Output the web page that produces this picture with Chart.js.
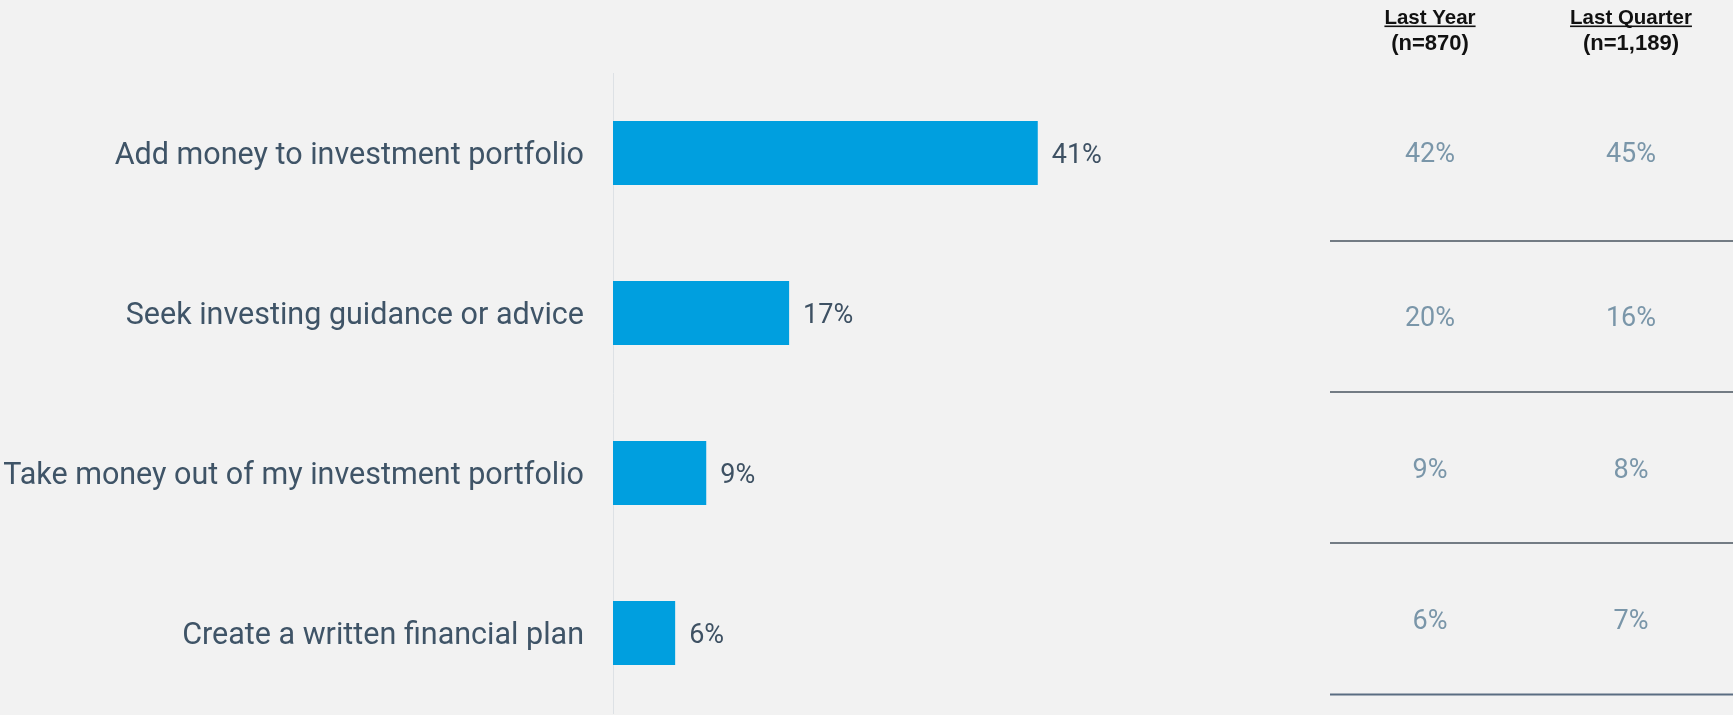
<!DOCTYPE html>
<html>
<head>
<meta charset="utf-8">
<script src="https://cdn.jsdelivr.net/npm/chart.js@4.4.1/dist/chart.umd.min.js"></script>
<style>
  html, body { margin: 0; padding: 0; background: #f2f2f2; }
  canvas { display: block; }
</style>
</head>
<body>
<canvas id="chart" width="1733" height="715"></canvas>
<script>
// Survey answers and the share choosing each one
const categories = [
  'Add money to investment portfolio',
  'Seek investing guidance or advice',
  'Take money out of my investment portfolio',
  'Create a written financial plan'
];
const currentValues = [41, 17, 9, 6];

// Comparison columns shown to the right of the bars
const lastYearValues = [42, 20, 9, 6];
const lastQuarterValues = [45, 16, 8, 7];
const comparisonTitles = ['Last Year', 'Last Quarter'];
const comparisonSamples = ['(n=870)', '(n=1,189)'];

const pct = v => v + '%';

// Comparison table layout (baselines of the figures, rule positions)
const tableColumnsX = [1430, 1631];
const tableRowsBaseline = [162, 325.5, 478, 629];
const tableRulesY = [241, 392, 543, 694.5];
const tableRuleLeft = 1330;

const background = {
  id: 'background',
  beforeDraw(chart) {
    const ctx = chart.ctx;
    ctx.save();
    ctx.fillStyle = '#f2f2f2';
    ctx.fillRect(0, 0, chart.width, chart.height);
    ctx.restore();
  }
};

const valueLabels = {
  id: 'valueLabels',
  afterDatasetsDraw(chart) {
    const ctx = chart.ctx;
    const meta = chart.getDatasetMeta(0);
    const data = chart.data.datasets[0].data;
    ctx.save();
    ctx.font = '27px Roboto';
    ctx.fillStyle = '#3e5163';
    ctx.textAlign = 'left';
    ctx.textBaseline = 'alphabetic';
    meta.data.forEach((bar, i) => {
      ctx.fillText(pct(data[i]), bar.x + 14, bar.y + 9.5);
    });
    ctx.restore();
  }
};

const comparisonTable = {
  id: 'comparisonTable',
  afterDraw(chart) {
    const ctx = chart.ctx;
    ctx.save();
    // column headers
    ctx.fillStyle = '#111111';
    ctx.textAlign = 'center';
    ctx.textBaseline = 'alphabetic';
    comparisonTitles.forEach((t, c) => {
      const x = tableColumnsX[c];
      ctx.font = 'bold 20.5px "Liberation Sans", Arial, sans-serif';
      ctx.fillText(t, x, 24);
      const w = ctx.measureText(t).width;
      ctx.fillRect(x - w / 2, 25.5, w, 1.6);
      ctx.font = 'bold 22px "Liberation Sans", Arial, sans-serif';
      ctx.fillText(comparisonSamples[c], x, 49.5);
    });
    // figures
    ctx.font = '27px Roboto';
    ctx.fillStyle = '#7a96a9';
    [lastYearValues, lastQuarterValues].forEach((col, c) => {
      col.forEach((v, r) => ctx.fillText(pct(v), tableColumnsX[c], tableRowsBaseline[r]));
    });
    // row rules
    tableRulesY.forEach((y, i) => {
      const last = i === tableRulesY.length - 1;
      ctx.strokeStyle = last ? '#5a6d82' : '#48555f';
      ctx.lineWidth = last ? 2 : 1.6;
      ctx.beginPath();
      ctx.moveTo(tableRuleLeft, y);
      ctx.lineTo(chart.width, y);
      ctx.stroke();
    });
    ctx.restore();
  }
};

new Chart(document.getElementById('chart'), {
  type: 'bar',
  data: {
    labels: categories,
    datasets: [{
      data: currentValues,
      backgroundColor: '#009fdf',
      borderWidth: 0,
      categoryPercentage: 1,
      barPercentage: 0.4
    }]
  },
  options: {
    indexAxis: 'y',
    responsive: false,
    animation: false,
    devicePixelRatio: 1,
    layout: { padding: { top: 73, bottom: 2, left: 0, right: 602 } },
    plugins: { legend: { display: false }, tooltip: { enabled: false } },
    scales: {
      x: { display: false, min: 0, max: 50 },
      y: {
        grid: { display: false, drawTicks: false },
        border: { display: true, color: '#dde1e5', width: 1 },
        ticks: {
          padding: 29,
          labelOffset: 3.5,
          color: '#3f5467',
          font: { family: 'Roboto', size: 30.5 }
        },
        afterFit(scale) {
          scale.width = 613;
          scale.paddingTop = 0;
          scale.paddingBottom = 0;
        }
      }
    }
  },
  plugins: [background, valueLabels, comparisonTable]
});
</script>
</body>
</html>
